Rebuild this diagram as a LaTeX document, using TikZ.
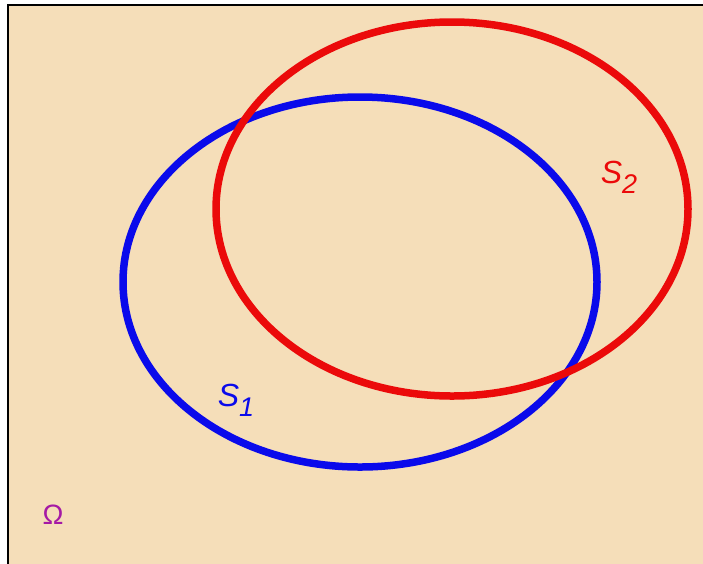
\documentclass[tikz,border=0pt]{standalone}
\usepackage{fontspec}
\setmainfont{Liberation Sans}
\definecolor{bg}{RGB}{245,222,185}
\definecolor{sblue}{RGB}{10,10,235}
\definecolor{sred}{RGB}{235,10,10}
\definecolor{omg}{RGB}{165,25,165}
\tikzset{
  setline/.style={line width=7.5pt},
  setlabel/.style={inner sep=0pt, font=\fontsize{32}{32}\selectfont\itshape},
}
\begin{document}
\begin{tikzpicture}[x=1pt,y=-1pt]
\useasboundingbox (0,0) rectangle (703,563);
\clip (0,0) rectangle (703,563);
\fill[white] (0,0) rectangle (703,563);
\draw[line width=2pt, fill=bg] (8,5) rectangle (720,580);
\draw[sblue, setline] (360,282) ellipse [x radius=237, y radius=185];
\draw[sred, setline] (452,209) ellipse [x radius=236, y radius=187];
\node[setlabel, text=sblue] (s1) at (236,400) {S\raisebox{-10pt}{\fontsize{27}{27}\selectfont 1}};
\node[setlabel, text=sred] (s2) at (619,177) {S\raisebox{-10pt}{\fontsize{27}{27}\selectfont 2}};
\node[inner sep=0pt, text=omg, font=\fontsize{28}{28}\selectfont] (om) at (53,515) {Ω};
\end{tikzpicture}
\end{document}
